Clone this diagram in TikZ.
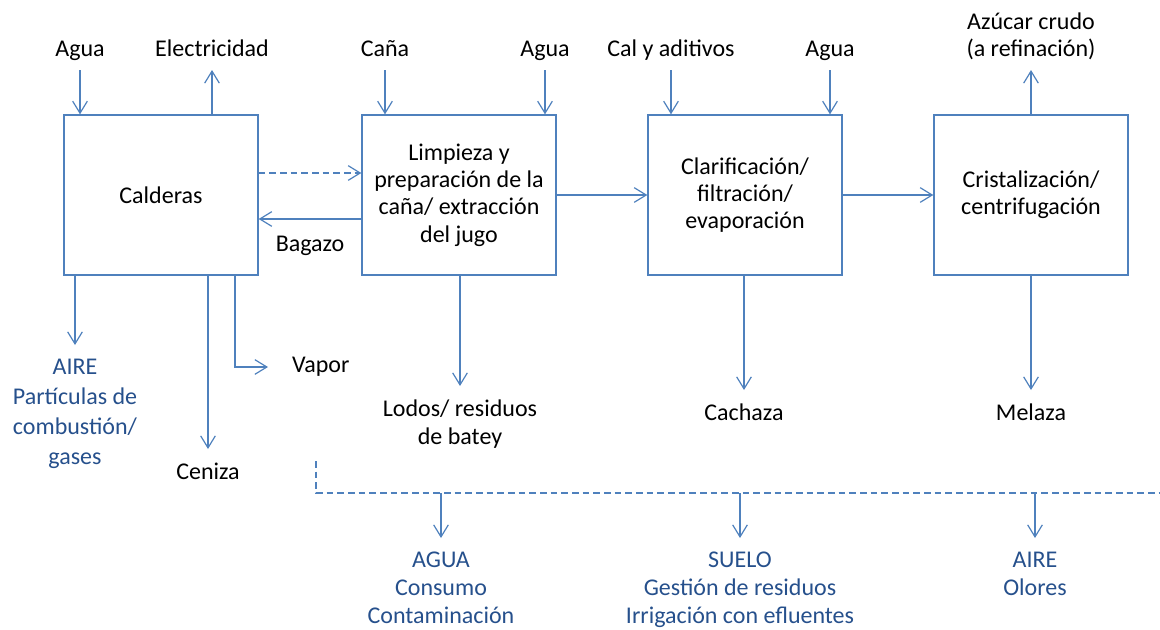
\documentclass[tikz,border=0pt]{standalone}
\usepackage{fontspec}
\setmainfont{Carlito}
\usetikzlibrary{arrows.meta,positioning,calc}
\definecolor{linecol}{RGB}{79,129,189}
\definecolor{envcol}{RGB}{38,80,140}

\begin{document}
\begin{tikzpicture}[x=0.75pt,y=-0.75pt]
\tikzstyle{every node}+=[inner sep=2pt, font=\fontsize{18}{20.5}\selectfont]
\tikzstyle{stage}=[draw=linecol, line width=1pt, minimum width=145.5pt, minimum height=120pt, align=center]
\tikzstyle{flow}=[draw=linecol, line width=0.9pt, -{Straight Barb[length=9pt,width=11pt]}]
\tikzstyle{src}=[anchor=south, text depth=0.25em, outer ysep=5.5pt, align=center]
\tikzstyle{sink}=[anchor=north, outer ysep=8.5pt, align=center]
\tikzstyle{env}=[sink, text=envcol, font=\fontsize{18}{22.5}\selectfont]
\tikzstyle{envlow}=[env, font=\fontsize{18}{20.8}\selectfont]
\useasboundingbox (0,0) rectangle (1160,629);

% etapas
\node [stage] (cald) at (161,195) {Calderas};
\node [stage] (limp) at (459,195) {Limpieza y\\preparación de la\\caña/ extracción\\del jugo};
\node [stage] (clar) at (745,195) {Clarificación/\\filtración/\\evaporación};
\node [stage] (crist) at (1031,195) {Cristalización/\\centrifugación};

% entradas
\node [src] (agua1) at (80,70) {Agua};
\node [src] (elec) at (212,70) {Electricidad};
\node [src] (cana) at (385,70) {Caña};
\node [src] (agua2) at (545,70) {Agua};
\node [src] (cal) at (671,70) {Cal y aditivos};
\node [src] (agua3) at (830,70) {Agua};
\node [src] (azucar) at (1031,70) {Azúcar crudo\\(a refinación)};
\draw [flow] (agua1.south) -- (agua1.south |- cald.north);
\draw [flow] (elec.south |- cald.north) -- (elec.south);
\draw [flow] (cana.south) -- (cana.south |- limp.north);
\draw [flow] (agua2.south) -- (agua2.south |- limp.north);
\draw [flow] (cal.south) -- (cal.south |- clar.north);
\draw [flow] (agua3.south) -- (agua3.south |- clar.north);
\draw [flow] (azucar.south |- crist.north) -- (azucar.south);

% entre etapas
\draw [flow, dash pattern=on 5pt off 3pt] ([yshift=16.5pt]cald.east) -- ([yshift=16.5pt]limp.west);
\draw [flow] ([yshift=-18pt]limp.west) -- node [below=10pt] (bag) {Bagazo} ([yshift=-18pt]cald.east);
\draw [flow] (limp.east) -- (clar.west);
\draw [flow] (clar.east) -- (crist.west);

% salidas
\node [env] (aire1) at (75,345) {AIRE\\Partículas de\\combustión/\\gases};
\node [sink] (ceniza) at (208,449) {Ceniza};
\node [sink] (lodos) at (460,386) {Lodos/ residuos\\de batey};
\node [sink] (cach) at (744,390) {Cachaza};
\node [sink] (mel) at (1031,390) {Melaza};
\node [anchor=west, outer xsep=16pt] (vapor) at (268,367) {Vapor};
\coordinate (vcorner) at (235,367);
\draw [flow] (aire1.north |- cald.south) -- (aire1.north);
\draw [flow] (ceniza.north |- cald.south) -- (ceniza.north);
\draw [flow] (vcorner |- cald.south) -- (vcorner) -- (vapor.west);
\draw [flow] (lodos.north |- limp.south) -- (lodos.north);
\draw [flow] (cach.north |- clar.south) -- (cach.north);
\draw [flow] (mel.north |- crist.south) -- (mel.north);

% impactos
\coordinate (envtop) at (316,461);
\coordinate (envend) at (1160,493);
\draw [linecol, line width=0.9pt, dash pattern=on 5pt off 3pt] (envtop) |- (envend);
\node [envlow] (agua) at (441,538) {AGUA\\Consumo\\Contaminación};
\node [envlow] (suelo) at (740,538) {SUELO\\Gestión de residuos\\Irrigación con efluentes};
\node [envlow] (aire2) at (1035,538) {AIRE\\Olores};
\draw [flow] (agua.north |- envend) -- (agua.north);
\draw [flow] (suelo.north |- envend) -- (suelo.north);
\draw [flow] (aire2.north |- envend) -- (aire2.north);
\end{tikzpicture}
\end{document}
